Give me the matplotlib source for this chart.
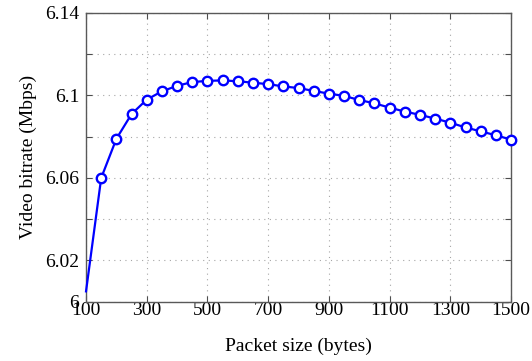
import numpy as np
import matplotlib; matplotlib.use("Agg")
import matplotlib.pyplot as plt

# packet size (bytes) and measured video bitrate (Mbps)
packet_size = [100, 150, 200, 250, 300, 350, 400, 450, 500, 550, 600, 650, 700, 750, 800,
               850, 900, 950, 1000, 1050, 1100, 1150, 1200, 1250, 1300, 1350, 1400, 1450, 1500]
bitrate = [6.005, 6.060, 6.079, 6.091, 6.098, 6.102, 6.1047, 6.1065, 6.1071, 6.1073, 6.1069,
           6.1062, 6.1055, 6.1044, 6.1036, 6.1022, 6.1009, 6.0998, 6.0978, 6.0962, 6.0941,
           6.0922, 6.0906, 6.0888, 6.0868, 6.0845, 6.0826, 6.0807, 6.0786]
xticks = [100, 300, 500, 700, 900, 1100, 1300, 1500]
yticks = [6.0, 6.02, 6.04, 6.06, 6.08, 6.10, 6.12, 6.14]
ylabels = ["6", "6.02", "", "6.06", "", "6.1", "", "6.14"]

plt.rcParams.update({"font.family": "Liberation Serif", "font.size": 14})
fig = plt.figure(figsize=(5.32, 3.61), dpi=100)
ax = fig.add_axes([0.1617, 0.1643, 0.7989, 0.7997])

ax.plot(packet_size, bitrate, "-o", color="#0000ff", lw=1.6, ms=6.8, mfc="white",
        mec="#0000ff", mew=1.7, markevery=range(1, len(packet_size)), zorder=3, clip_on=False)

ax.set_xlim(100, 1500)
ax.set_ylim(6.0, 6.14)
ax.set_xticks(xticks)
ax.set_yticks(yticks)
ax.set_yticklabels(ylabels)
ax.grid(True, ls=(0, (1, 4)), color="0.65", lw=0.8)
ax.tick_params(direction="in", top=True, right=True, length=4, width=0.8,
               labelsize=14, color="0.3")
ax.tick_params(axis="x", pad=0.5)
ax.tick_params(axis="y", pad=5)
for s in ax.spines.values():
    s.set_color("0.35")
    s.set_linewidth(1.0)
ax.set_xlabel("Packet size (bytes)", fontsize=14, labelpad=13)
ax.set_ylabel("Video bitrate (Mbps)", fontsize=14, labelpad=6)

fig.savefig("out.png", dpi=100)
